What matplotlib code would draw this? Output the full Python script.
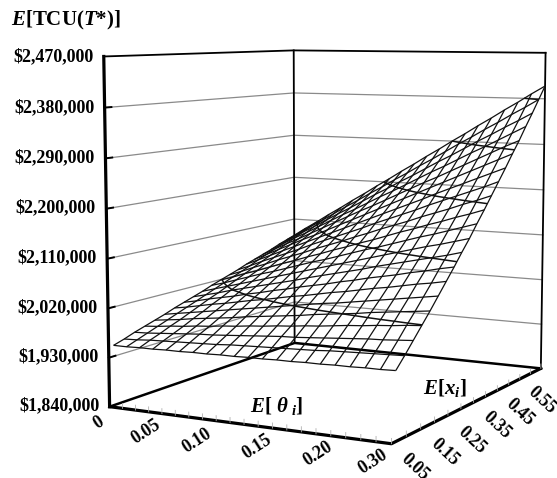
import numpy as np
import matplotlib
matplotlib.use("Agg")
import matplotlib.pyplot as plt

# Axis text
theta_labels = ["0", "0.05", "0.10", "0.15", "0.20", "0.30"]
xi_labels = ["0.05", "0.15", "0.25", "0.35", "0.45", "0.55"]
cost_ticks = [1840, 1930, 2020, 2110, 2200, 2290, 2380, 2470]
contour_levels = [2020, 2110, 2200, 2290, 2380]

# Expected cost in $ thousand, one row per E[x] step, one column per E[theta] step
cost = np.array([
    [1950,1950,1951,1951,1952,1952,1953,1953,1954,1954,1955,1955,1956,1956,1957,1957,1958,1958,1959,1959,1960],
    [1956,1957,1959,1960,1961,1962,1963,1964,1966,1967,1968,1969,1970,1971,1972,1974,1975,1976,1977,1978,1979],
    [1963,1964,1966,1968,1970,1972,1973,1975,1977,1979,1981,1983,1984,1986,1988,1990,1992,1994,1995,1997,1999],
    [1969,1971,1974,1976,1979,1981,1984,1986,1989,1991,1994,1996,1999,2001,2004,2007,2009,2012,2014,2017,2019],
    [1975,1978,1981,1985,1988,1991,1994,1998,2001,2004,2007,2010,2014,2017,2020,2023,2027,2030,2033,2036,2039],
    [1981,1985,1989,1993,1997,2001,2005,2009,2013,2017,2021,2025,2029,2032,2036,2040,2044,2048,2052,2056,2060],
    [1988,1992,1997,2002,2006,2011,2016,2020,2025,2030,2034,2039,2044,2048,2053,2058,2062,2067,2072,2076,2081],
    [1994,1999,2005,2010,2015,2021,2026,2032,2037,2043,2048,2053,2059,2064,2070,2075,2080,2086,2091,2097,2102],
    [2000,2006,2012,2019,2025,2031,2037,2043,2049,2056,2062,2068,2074,2080,2087,2093,2099,2105,2111,2117,2124],
    [2006,2013,2020,2027,2034,2041,2048,2055,2062,2069,2076,2083,2090,2097,2104,2111,2118,2125,2131,2138,2145],
    [2013,2020,2028,2036,2044,2051,2059,2067,2075,2082,2090,2098,2106,2113,2121,2129,2137,2144,2152,2160,2168],
    [2019,2027,2036,2044,2053,2062,2070,2079,2087,2096,2104,2113,2121,2130,2139,2147,2156,2164,2173,2181,2190],
    [2025,2034,2044,2053,2063,2072,2081,2091,2100,2109,2119,2128,2138,2147,2156,2166,2175,2184,2194,2203,2213],
    [2031,2041,2052,2062,2072,2082,2093,2103,2113,2123,2133,2144,2154,2164,2174,2185,2195,2205,2215,2225,2236],
    [2038,2049,2060,2071,2082,2093,2104,2115,2126,2137,2148,2159,2170,2181,2192,2204,2215,2226,2237,2248,2259],
    [2044,2056,2068,2080,2092,2103,2115,2127,2139,2151,2163,2175,2187,2199,2211,2223,2235,2247,2259,2271,2283],
    [2050,2063,2076,2088,2101,2114,2127,2140,2153,2165,2178,2191,2204,2217,2229,2242,2255,2268,2281,2294,2306],
    [2056,2070,2084,2097,2111,2125,2139,2152,2166,2180,2193,2207,2221,2235,2248,2262,2276,2289,2303,2317,2331],
    [2063,2077,2092,2106,2121,2136,2150,2165,2180,2194,2209,2223,2238,2253,2267,2282,2297,2311,2326,2340,2355],
    [2069,2084,2100,2115,2131,2147,2162,2178,2193,2209,2224,2240,2255,2271,2287,2302,2318,2333,2349,2364,2380],
    [2075,2092,2108,2125,2141,2158,2174,2191,2207,2224,2240,2257,2273,2290,2306,2323,2339,2356,2372,2389,2405],
])

SERIF = "Liberation Serif"
plt.rcParams["font.family"] = SERIF
plt.rcParams["font.weight"] = "bold"
plt.rcParams["mathtext.fontset"] = "custom"
plt.rcParams["mathtext.rm"] = SERIF + ":bold"
plt.rcParams["mathtext.it"] = SERIF + ":italic:bold"

W, H = 557, 478
fig = plt.figure(figsize=(W / 100, H / 100), dpi=100)
fig.patch.set_facecolor("white")


def fx(x):
    return x / W


def fy(y):
    return 1 - y / H


# Camera fitted to the vanishing points of the floor
ax = fig.add_axes([48.9 / W, -32.1 / H, 560 / W, 560 / H], projection="3d")
ax.set_proj_type("persp", focal_length=0.5517)
ax.view_init(elev=6.9, azim=-62, roll=0)
ax.set_box_aspect((0.18, 0.216, 0.2))
ax.set_xticks([])
ax.set_yticks([])
ax.set_zticks([])
ax.set_axis_off()

n_rows, n_cols = cost.shape
x_end, y_end = n_cols - 1, n_rows - 1
zmin, zmax = cost_ticks[0], cost_ticks[-1]
ax.set_xlim(0, x_end, view_margin=0)
ax.set_ylim(0, y_end, view_margin=0)
ax.set_zlim(zmin, zmax, view_margin=0)

# Gridlines on the two back walls
for z in cost_ticks[1:-1]:
    ax.plot([0, 0, x_end], [0, y_end, y_end], [z, z, z], color="#8a8a8a", lw=0.9)
    ax.plot([0, 0], [0, 0.6], [z, z], color="black", lw=1.4)

# Box frame
ax.plot([0, 0, x_end], [0, y_end, y_end], [zmax, zmax, zmax], color="black", lw=1.3)
ax.plot([0, 0], [y_end, y_end], [zmin, zmax], color="black", lw=1.3)
ax.plot([x_end, x_end], [y_end, y_end], [zmin, zmax], color="black", lw=1.3)
ax.plot([0, 0, x_end], [0, y_end, y_end], [zmin, zmin, zmin], color="black", lw=1.8)
ax.plot([0, x_end, x_end], [0, 0, y_end], [zmin, zmin, zmin], color="black", lw=2.3)
ax.plot([0, 0], [0, 0], [zmin, zmax], color="black", lw=2.3)

# Small ticks along the front floor edges
for i in range(1, n_cols):
    ax.plot([i, i], [0, 0], [zmin, zmin + 9], color="#b0b0b0", lw=0.6)
for j in np.linspace(0, y_end, 13)[1:]:
    ax.plot([x_end, x_end], [j, j], [zmin, zmin + 9], color="#b0b0b0", lw=0.6)

# Surface, its front edge sits a little inside the floor
tt, xx = np.meshgrid(np.arange(n_cols), np.linspace(0.45, y_end, n_rows))
ax.plot_wireframe(tt, xx, cost, rstride=1, cstride=1, color="#111111", linewidth=0.9)
ax.contour(tt, xx, cost, levels=contour_levels, colors="#111111", linewidths=1.1)

# Value labels hang off the left axis
for z in cost_ticks:
    ax.text(-0.8, 0, z, f"${z:,}" + ",000", ha="right", va="center", fontsize=13)

# Category labels, rotated along the floor edges
theta_xy = [(99, 423), (146, 432), (197, 441), (257, 447), (318, 454), (373, 462)]
for s, (x, y) in zip(theta_labels, theta_xy):
    fig.text(fx(x), fy(y), s, rotation=33, ha="center", va="center", rotation_mode="anchor", fontsize=13)
xi_xy = [(415, 467), (445, 452), (472, 440), (497, 425), (520, 412), (542, 400)]
for s, (x, y) in zip(xi_labels, xi_xy):
    fig.text(fx(x), fy(y), s, rotation=-43, ha="center", va="center", rotation_mode="anchor", fontsize=13)

fig.text(fx(66), fy(20), r"$\mathit{E}\mathrm{[TCU(}\mathit{T}\mathrm{*)]}$", ha="center", va="center", fontsize=15)
fig.text(fx(277), fy(406), r"$\mathit{E}\mathrm{[}\ \mathit{\theta}_{\ i}\mathrm{]}$", ha="center", va="center", fontsize=15)
fig.text(fx(445), fy(388), r"$\mathit{E}\mathrm{[}\mathit{x}_{i}\mathrm{]}$", ha="center", va="center", fontsize=15)

fig.savefig("out.png", dpi=100, facecolor="white")
